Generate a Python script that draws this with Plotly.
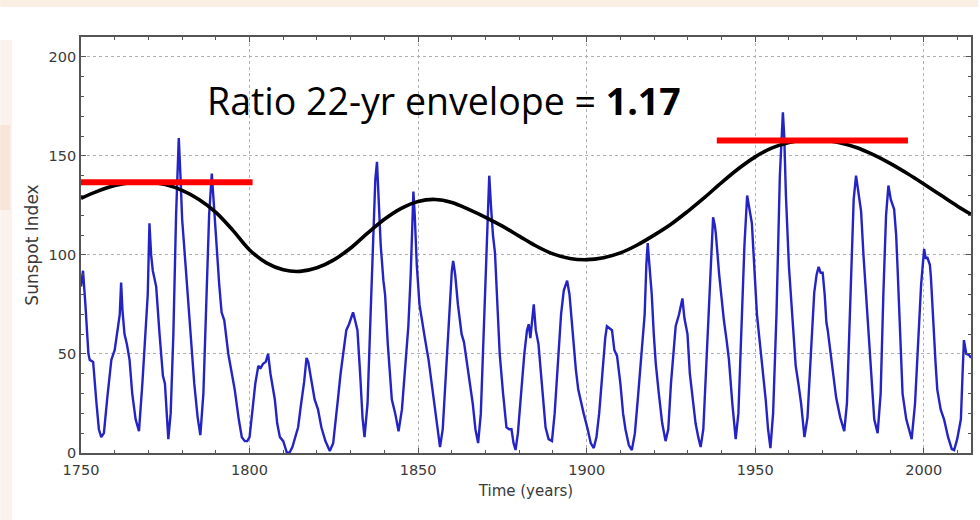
import plotly.graph_objects as go

# ---------------- data ----------------
ssn_years = [
    1750.0, 1750.6, 1751.3, 1752.2, 1752.6, 1753.6, 1754.6, 1755.3, 1756.0, 1756.8,
    1757.8, 1759.0, 1760.0, 1760.9, 1761.5, 1761.9, 1762.3, 1762.9, 1763.6, 1764.4,
    1765.2, 1766.2, 1767.2, 1768.2, 1769.2, 1769.8, 1770.3, 1770.8, 1771.3, 1772.3,
    1773.3, 1774.3, 1774.9, 1775.4, 1775.9, 1776.6, 1777.4, 1778.2, 1779.0, 1779.5,
    1780.0, 1780.7, 1781.6, 1782.6, 1783.6, 1784.6, 1785.4, 1786.3, 1787.2, 1788.0,
    1788.8, 1789.2, 1789.6, 1790.3, 1791.0, 1791.7, 1792.5, 1793.7, 1794.7, 1795.6,
    1796.8, 1797.7, 1798.6, 1799.3, 1800.0, 1800.8, 1801.7, 1802.6, 1803.3, 1804.0,
    1804.8, 1805.5, 1806.2, 1807.5, 1808.2, 1809.0, 1810.0, 1811.0, 1811.8, 1812.7,
    1813.5, 1814.4, 1815.3, 1816.2, 1816.9, 1817.4, 1818.2, 1819.3, 1820.3, 1821.3,
    1822.5, 1823.8, 1824.8, 1825.5, 1826.2, 1827.0, 1827.8, 1828.7, 1829.5, 1830.4,
    1830.7, 1831.3, 1832.0, 1832.8, 1833.5, 1834.1, 1835.0, 1835.9, 1836.8, 1837.3,
    1837.8, 1838.3, 1838.9, 1839.7, 1840.2, 1841.0, 1842.2, 1843.2, 1844.2, 1845.2,
    1846.3, 1847.1, 1847.8, 1848.3, 1848.6, 1849.0, 1849.6, 1850.4, 1851.1, 1852.0,
    1853.1, 1854.0, 1855.1, 1856.0, 1856.5, 1857.3, 1858.2, 1859.3, 1860.0, 1860.4,
    1861.0, 1861.8, 1862.9, 1863.6, 1864.4, 1865.3, 1866.2, 1867.0, 1867.8, 1868.6,
    1869.4, 1870.3, 1870.8, 1871.1, 1871.6, 1872.2, 1872.8, 1873.5, 1874.2, 1875.2,
    1876.2, 1877.0, 1877.7, 1878.3, 1878.9, 1879.6, 1880.5, 1881.5, 1882.3, 1882.8,
    1883.3, 1883.8, 1884.3, 1884.9, 1885.7, 1886.7, 1887.8, 1888.7, 1889.7, 1890.5,
    1891.5, 1892.4, 1893.2, 1894.2, 1894.9, 1895.8, 1896.8, 1897.5, 1898.1, 1899.1,
    1900.3, 1901.2, 1902.1, 1902.9, 1903.7, 1904.7, 1905.5, 1906.0, 1906.6, 1907.5,
    1908.2, 1909.0, 1910.0, 1910.8, 1911.5, 1912.5, 1913.4, 1914.3, 1915.3, 1916.4,
    1917.2, 1917.7, 1918.1, 1918.6, 1919.3, 1919.9, 1920.5, 1921.4, 1922.4, 1923.4,
    1924.2, 1925.0, 1926.0, 1926.4, 1927.4, 1928.0, 1928.4, 1929.0, 1929.9, 1930.6,
    1931.4, 1932.3, 1933.1, 1933.8, 1934.6, 1935.5, 1936.6, 1937.5, 1938.0, 1938.3,
    1939.3, 1940.0, 1940.7, 1941.5, 1942.2, 1943.2, 1944.2, 1945.0, 1945.9, 1946.8,
    1947.6, 1948.1, 1948.6, 1949.0, 1949.8, 1950.5, 1951.1, 1952.1, 1953.1, 1953.8,
    1954.5, 1955.3, 1956.3, 1957.3, 1957.9, 1958.2, 1958.6, 1959.1, 1960.0, 1961.0,
    1962.0, 1962.8, 1963.6, 1964.6, 1965.5, 1966.5, 1967.5, 1968.2, 1968.8, 1969.4,
    1970.0, 1970.6, 1971.1, 1971.5, 1972.0, 1973.0, 1974.0, 1975.2, 1976.4, 1977.2,
    1978.2, 1979.2, 1979.9, 1980.5, 1981.4, 1982.1, 1982.8, 1983.8, 1984.6, 1985.3,
    1986.3, 1987.2, 1988.0, 1988.8, 1989.5, 1990.2, 1991.2, 1991.8, 1992.2, 1993.0,
    1993.7, 1994.8, 1996.4, 1997.4, 1998.3, 1999.2, 2000.1, 2000.6, 2001.0, 2001.4,
    2001.8, 2002.1, 2002.8, 2003.5, 2004.0, 2005.0, 2006.0, 2007.2, 2008.3, 2009.0,
    2009.9, 2011.0, 2011.5, 2011.9, 2012.6, 2013.4, 2014.0,
]
ssn_values = [
    84, 92, 75, 50, 47, 46, 25, 12, 8, 10,
    28, 47, 52, 62, 70, 86, 72, 60, 55, 47,
    30, 17, 11, 35, 62, 80, 116, 100, 92, 84,
    60, 39, 35, 18, 7, 20, 60, 120, 159, 140,
    118, 102, 80, 60, 35, 18, 9, 30, 75, 120,
    141, 130, 121, 105, 85, 71, 67, 50, 40, 32,
    17, 8, 6, 6, 8, 20, 35, 44, 43, 45,
    46, 50, 40, 27, 15, 8, 6, 0.5, 0, 3,
    8, 13, 25, 36, 48, 46, 38, 27, 22, 13,
    6, 1, 5, 15, 27, 40, 50, 62, 65, 70,
    71, 67, 62, 40, 18, 8, 25, 70, 120, 138,
    147, 130, 105, 87, 80, 55, 27, 20, 11, 22,
    45, 64, 90, 118, 132, 120, 95, 75, 67, 58,
    47, 35, 22, 8, 3, 12, 40, 75, 92, 97,
    90, 75, 60, 56, 46, 35, 25, 12, 5, 20,
    60, 110, 135, 140, 125, 110, 101, 75, 50, 30,
    13, 12, 12, 5, 1.5, 10, 30, 50, 62, 65,
    58, 68, 75, 62, 55, 35, 13, 7, 6, 20,
    45, 70, 82, 87, 80, 60, 42, 32, 27, 20,
    12, 5, 2.5, 8, 20, 42, 58, 64, 63, 62,
    52, 49, 35, 20, 12, 4, 1.5, 10, 30, 52,
    70, 95, 106, 95, 80, 60, 45, 30, 15, 6,
    12, 35, 55, 64, 70, 74, 78, 68, 60, 40,
    27, 15, 8, 3, 12, 45, 90, 119, 115, 111,
    90, 78, 67, 57, 47, 25, 7, 20, 60, 105,
    130, 124, 120, 116, 90, 70, 60, 45, 27, 12,
    2.5, 20, 70, 140, 165, 172, 160, 130, 94, 70,
    44, 35, 25, 8, 18, 50, 81, 90, 94, 91,
    91, 80, 66, 62, 55, 40, 28, 18, 11, 25,
    80, 128, 140, 132, 122, 100, 81, 57, 35, 17,
    10, 30, 80, 120, 135, 128, 123, 110, 94, 55,
    30, 17, 7, 25, 55, 85, 103, 98, 99, 97,
    95, 89, 65, 45, 32, 22, 17, 8, 2, 1.5,
    7, 17, 40, 57, 50, 49.5, 48,
]

env_years = [1750, 1755, 1760, 1765, 1770, 1775, 1780, 1785, 1790, 1795,
             1800, 1805, 1810, 1815, 1820, 1825, 1830, 1835, 1840, 1845,
             1850, 1855, 1860, 1865, 1870, 1875, 1880, 1885, 1890, 1895,
             1900, 1905, 1910, 1915, 1920, 1925, 1930, 1935, 1940, 1945,
             1950, 1955, 1960, 1965, 1970, 1975, 1980, 1985, 1990, 1995,
             2000, 2005, 2010, 2014]
env_values = [128.6, 132.2, 135.0, 136.6, 136.8, 135.5, 132.6, 128.0, 121.5, 112.5,
              102.5, 96.0, 92.5, 91.7, 93.5, 97.5, 103.5, 111.0, 118.0, 123.5,
              127.0, 128.0, 126.5, 123.0, 119.0, 114.5, 109.5, 104.5, 100.5, 98.2,
              97.6, 98.6, 101.0, 105.0, 110.0, 115.5, 122.0, 129.0, 136.5, 143.5,
              149.5, 154.0, 156.8, 158.0, 158.0, 156.6, 154.2, 150.6, 146.2, 141.2,
              135.8, 130.2, 124.6, 120.5]

# red 22-yr envelope maxima markers: (start year, end year, level)
red_x0 = [1746.5, 1938.6]
red_x1 = [1800.9, 1995.3]
red_level = [136.7, 157.7]

x_ticks = [1750, 1800, 1850, 1900, 1950, 2000]
y_ticks = [0, 50, 100, 150, 200]
annotation_text = "Ratio 22-yr envelope = <b>1.17</b>"

# ---------------- figure ----------------
fig = go.Figure()
fig.add_trace(go.Scatter(x=ssn_years, y=ssn_values, mode="lines",
                         line=dict(color="#2424c6", width=2.4),
                         hoverinfo="skip", showlegend=False))
fig.add_trace(go.Scatter(x=env_years, y=env_values, mode="lines",
                         line=dict(color="black", width=3.6, shape="spline", smoothing=1.0),
                         hoverinfo="skip", showlegend=False))

for a, b, lv in zip(red_x0, red_x1, red_level):
    fig.add_shape(type="line", xref="x", yref="y", x0=a, x1=b, y0=lv, y1=lv,
                  line=dict(color="#ff0000", width=6), layer="above")

# faint slide decoration at the edges (paper coordinates, decorative only)
W, H, L, T, R, B = 980, 520, 81, 37, 7, 67
pw, ph = W - L - R, H - T - B
def px(xp):
    return (xp - L) / pw
def py(yp):
    return (H - B - yp) / ph
fig.add_shape(type="rect", xref="paper", yref="paper", x0=px(0), x1=px(980),
              y0=py(0), y1=py(7), line_width=0, fillcolor="rgba(246,218,192,0.45)",
              layer="below")
fig.add_shape(type="rect", xref="paper", yref="paper", x0=px(0), x1=px(12),
              y0=py(40), y1=py(520), line_width=0, fillcolor="rgba(246,222,210,0.40)",
              layer="below")
fig.add_shape(type="rect", xref="paper", yref="paper", x0=px(0), x1=px(10),
              y0=py(125), y1=py(210), line_width=0, fillcolor="rgba(240,195,160,0.28)",
              layer="below")

fig.add_annotation(x=1786.8, y=178, xref="x", yref="y", text=annotation_text,
                   showarrow=False, xanchor="left", yanchor="middle",
                   font=dict(family="Open Sans, sans-serif", size=37.5, color="black"))

axis_common = dict(
    showline=True, linecolor="#555555", linewidth=1.6, mirror="allticks",
    ticks="inside", ticklen=5, tickcolor="#555555", tickwidth=1,
    showgrid=True, gridcolor="#b0b0b0", griddash="dot", gridwidth=1,
    zeroline=False,
    tickfont=dict(family="DejaVu Sans", size=14.5, color="#3a3a3a"),
)

fig.update_xaxes(range=[1750, 2014], tickvals=x_ticks, ticktext=[str(v) for v in x_ticks],
                 minor=dict(dtick=10, tick0=1750, ticks="inside", ticklen=3,
                            tickcolor="#555555", showgrid=False),
                 ticklabelstandoff=3,
                 title=dict(text="Time (years)", standoff=8,
                            font=dict(family="DejaVu Sans", size=15, color="#3a3a3a")),
                 **axis_common)
fig.update_yaxes(range=[0, 210], tickvals=y_ticks, ticktext=[str(v) for v in y_ticks],
                 minor=dict(dtick=10, tick0=0, ticks="inside", ticklen=3,
                            tickcolor="#555555", showgrid=False),
                 title=dict(text="Sunspot Index", standoff=6,
                            font=dict(family="DejaVu Sans", size=17, color="#3a3a3a")),
                 **axis_common)

fig.update_layout(width=W, height=H, margin=dict(l=L, r=R, t=T, b=B),
                  paper_bgcolor="white", plot_bgcolor="white", showlegend=False)

fig.write_html("out.html")
